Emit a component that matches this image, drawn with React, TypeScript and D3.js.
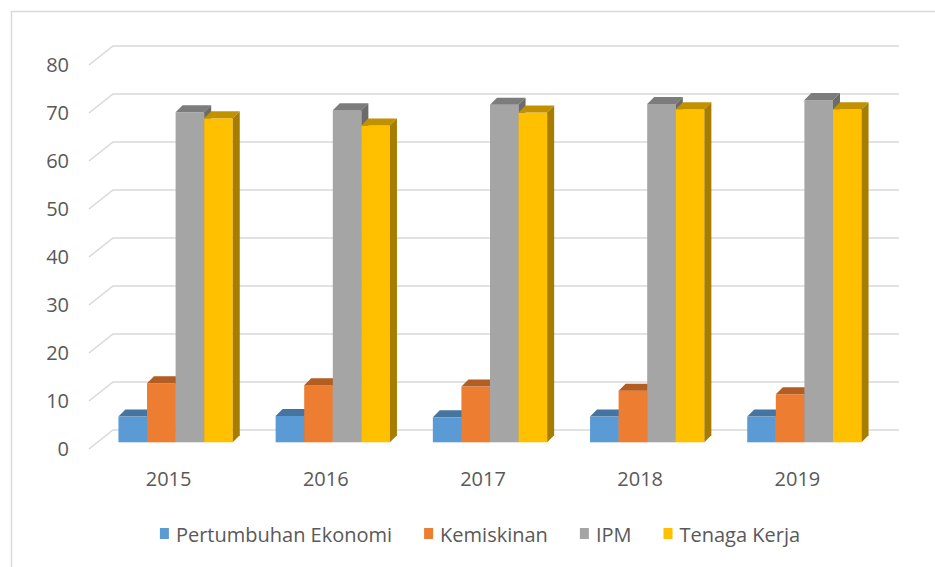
import { useEffect, useRef } from "react";
import * as d3 from "d3";

const years = ["2015", "2016", "2017", "2018", "2019"];
const seriesNames = ["Pertumbuhan Ekonomi", "Kemiskinan", "IPM", "Tenaga Kerja"];
const pertumbuhanEkonomi = [5.35, 5.5, 5.2, 5.35, 5.35];
const kemiskinan = [12.3, 11.9, 11.6, 10.75, 10.0];
const ipm = [68.75, 69.2, 70.3, 70.5, 71.3];
const tenagaKerja = [67.5, 66.0, 68.7, 69.4, 69.4];
const yTicks = [0, 10, 20, 30, 40, 50, 60, 70, 80];

const frontColors = ["#5b9bd5", "#ed7d31", "#a5a5a5", "#ffc000"];
const topColors = ["#44749f", "#b35d22", "#7c7c7c", "#c29100"];
const sideColors = ["#3a6591", "#9a5220", "#6b6b6b", "#a67d00"];

export default function App() {
  const ref = useRef<SVGSVGElement>(null);

  useEffect(() => {
    if (!ref.current) return;
    const svg = d3.select(ref.current);
    svg.selectAll("*").remove();

    const values = [pertumbuhanEkonomi, kemiskinan, ipm, tenagaKerja];
    const font = "'Open Sans', sans-serif";
    const textColor = "#595959";
    const gridColor = "#d9d9d9";

    // back wall of the 3d plot
    const x = d3.scaleBand().domain(years).range([113, 899]);
    const y = d3.scaleLinear().domain([0, 80]).range([430, 46]);

    // oblique offsets: front plane (axis labels), bar plane, bar depth
    const front = { dx: -24, dy: 19 };
    const barPlane = { dx: -16, dy: 12.3 };
    const depth = { dx: 7, dy: -7 };

    const bw = x.bandwidth() / 5.5; // gap width 150%
    const inner = d3
      .scaleBand()
      .domain(seriesNames)
      .range([0.75 * bw, 4.75 * bw]);

    svg
      .append("rect")
      .attr("x", 11.5)
      .attr("y", 11.5)
      .attr("width", 1000)
      .attr("height", 1000)
      .attr("fill", "none")
      .attr("stroke", gridColor)
      .attr("stroke-width", 1.5);

    // gridlines
    const grid = svg.append("g").attr("stroke", gridColor).attr("stroke-width", 1.5).attr("fill", "none");
    yTicks.forEach((t) => {
      const yy = y(t);
      grid
        .append("path")
        .attr("d", `M${113 + front.dx},${yy + front.dy}L113,${yy}L${x.range()[1]},${yy}`);
    });

    // y labels
    svg
      .append("g")
      .selectAll("text")
      .data(yTicks)
      .join("text")
      .attr("x", 69)
      .attr("y", (d) => y(d) + 18)
      .attr("text-anchor", "end")
      .attr("dominant-baseline", "central")
      .attr("font-family", font)
      .attr("font-size", 20)
      .attr("fill", textColor)
      .text((d) => d);

    // bars
    const bars = svg.append("g");
    years.forEach((yr, i) => {
      seriesNames.forEach((s, j) => {
        const v = values[j][i];
        const x0 = (x(yr) || 0) + barPlane.dx + (inner(s) || 0);
        const x1 = x0 + inner.bandwidth();
        const yt = y(v) + barPlane.dy;
        const yb = y(0) + barPlane.dy;
        bars
          .append("rect")
          .attr("x", x0)
          .attr("y", yt)
          .attr("width", inner.bandwidth())
          .attr("height", yb - yt)
          .attr("fill", frontColors[j]);
        bars
          .append("path")
          .attr(
            "d",
            `M${x0},${yt}L${x0 + depth.dx},${yt + depth.dy}L${x1 + depth.dx},${yt + depth.dy}L${x1},${yt}Z`
          )
          .attr("fill", topColors[j]);
        bars
          .append("path")
          .attr(
            "d",
            `M${x1},${yt}L${x1 + depth.dx},${yt + depth.dy}L${x1 + depth.dx},${yb + depth.dy}L${x1},${yb}Z`
          )
          .attr("fill", sideColors[j]);
      });
    });

    // category labels
    svg
      .append("g")
      .selectAll("text")
      .data(years)
      .join("text")
      .attr("x", (d) => (x(d) || 0) + x.bandwidth() / 2 + front.dx + 1)
      .attr("y", 478)
      .attr("text-anchor", "middle")
      .attr("dominant-baseline", "central")
      .attr("font-family", font)
      .attr("font-size", 20)
      .attr("fill", textColor)
      .text((d) => d);

    // legend
    const legend = svg.append("g");
    const items = seriesNames.map((name, j) => {
      const g = legend.append("g");
      g.append("rect").attr("x", 0).attr("y", -6).attr("width", 9).attr("height", 11).attr("fill", frontColors[j]);
      const t = g
        .append("text")
        .attr("x", 16)
        .attr("y", 0)
        .attr("dominant-baseline", "central")
        .attr("font-family", font)
        .attr("font-size", 20)
        .attr("fill", textColor)
        .text(name);
      const w = (t.node() as SVGTextElement).getComputedTextLength();
      return { g, w: 16 + w };
    });
    const gap = 32;
    const total = d3.sum(items, (d) => d.w) + gap * (items.length - 1);
    let cx = 480 - total / 2;
    items.forEach((it) => {
      it.g.attr("transform", `translate(${cx},534)`);
      cx += it.w + gap;
    });
  }, []);

  return (
    <svg
      ref={ref}
      width={935}
      height={567}
      style={{ position: "absolute", left: 0, top: 0, background: "#fff" }}
    ></svg>
  );
}
